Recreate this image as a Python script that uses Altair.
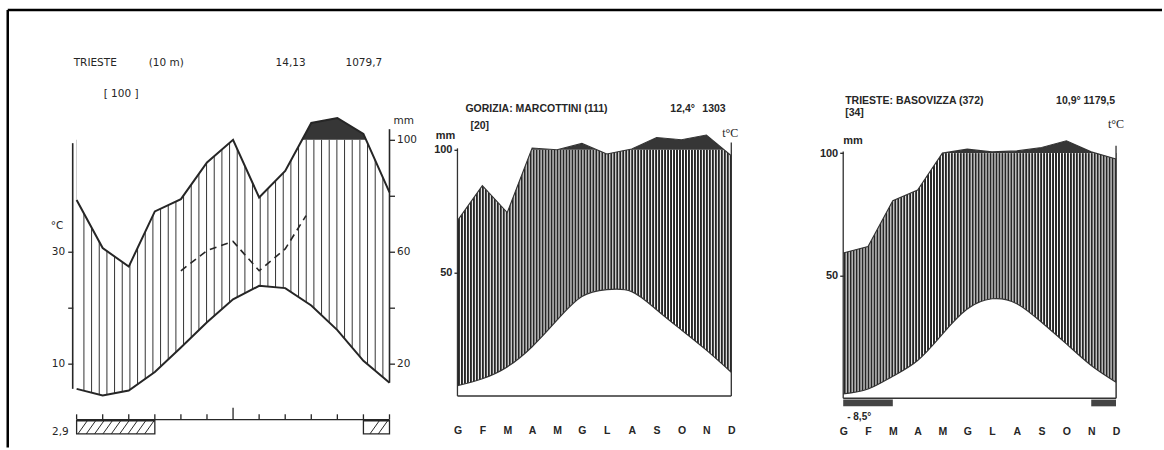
import json
import altair as alt
import pandas as pd

# ---------------- data ----------------
month_letters = ["G", "F", "M", "A", "M", "G", "L", "A", "S", "O", "N", "D"]

# Trieste (10 m) - 13 points along the month grid
t1_pos = list(range(13))
t1_temp = [5.5, 4.3, 5.2, 8.5, 12.9, 17.4, 21.5, 23.9, 23.5, 20.4, 16.0, 10.5, 6.6]
t1_prec = [78.5, 61.3, 54.7, 74.4, 78.8, 91.9, 100.0, 79.4, 88.9, 160.0, 178.0, 121.0, 81.2]
t1_dash_pos = [4.0, 5.0, 6.0, 7.0, 8.0, 8.8]
t1_dash_mm = [53.2, 60.4, 63.7, 53.2, 61.0, 72.9]
t1_frost_from = [0, 11]
t1_frost_to = [3, 12]
t1_month_ticks = list(range(13))

# Gorizia: Marcottini (111)
g_pos = list(range(12))
g_temp = [2.1, 3.5, 5.9, 10.0, 15.4, 20.2, 21.6, 21.2, 17.5, 13.4, 9.3, 4.8]
g_prec = [71.2, 85.4, 74.5, 107.0, 100.0, 126.0, 98.3, 103.0, 150.0, 141.0, 160.0, 97.6]

# Trieste: Basovizza (372)
b_pos = list(range(12))
b_temp = [0.9, 1.9, 4.5, 7.7, 13.1, 18.2, 20.3, 19.3, 15.5, 11.1, 6.7, 3.3]
b_prec = [59.3, 61.9, 80.6, 84.9, 100.0, 116.0, 105.0, 109.0, 123.0, 150.0, 105.0, 97.6]
b_frost_from = [0, 10]
b_frost_to = [2, 11]

# ---------------- styling ----------------
PREC_EXPR = "datum.mm <= 100 ? datum.mm / 2 : 50 + (datum.mm - 100) / 20"
INK = "#262626"
DARK = "#363636"
TOP_Y, BOT_Y, H = 100, 440, 340
F1 = "DejaVu Sans"
F2 = "Liberation Sans"


def one():
    return pd.DataFrame({"k": [0]})


def note(text, ax, ay, origin, size=10, weight="normal", align="left", font=F1, color=INK):
    ox, oy = origin
    return alt.Chart(pd.DataFrame({"t": [text]})).mark_text(
        align=align, baseline="middle", fontSize=size, fontWeight=weight, font=font, color=color
    ).encode(text="t:N", x=alt.value(ax - ox), y=alt.value(ay - oy))


def ydom(zero_px, k):
    return [-(BOT_Y - zero_px) / k, (zero_px - TOP_Y) / k]


axis_common = dict(domain=False, grid=False, title=None, tickColor=INK, tickWidth=1.3,
                   labelColor=INK, zindex=1)

# ================= Panel 1 : Trieste =================
O1 = (72, TOP_Y)
W1 = 317
xs1 = alt.Scale(domain=[-0.15, 12], nice=False, zero=False)
ys1 = alt.Scale(domain=ydom(419.0, 5.6), nice=False, zero=False)
df1 = pd.DataFrame({"pos": t1_pos, "temp": t1_temp, "mm": t1_prec})
b1 = alt.Chart(df1).transform_calculate(py=PREC_EXPR, lo="0", hi="50", top="56.9")
X1 = alt.X("pos:Q", scale=xs1, axis=None)
Yp1 = alt.Y("py:Q", scale=ys1, axis=None)
Yt1 = alt.Y("temp:Q", scale=ys1, axis=None)
Ylo1 = alt.Y("lo:Q", scale=ys1, axis=None)

p1_layers = [
    b1.mark_area(color=DARK).encode(x=X1, y=Yp1, y2="hi:Q"),
    alt.Chart(alt.sequence(0.28, 12.0, 0.294, as_="h")).transform_calculate(lo="0", hi="50")
    .mark_rule(color="#333", strokeWidth=1).encode(
        x=alt.X("h:Q", scale=xs1, axis=None), y=Ylo1, y2="hi:Q"),
    b1.mark_area(color="white").encode(x=X1, y=Yp1, y2="top:Q"),
    b1.mark_area(color="white").encode(x=X1, y=Yt1, y2="lo:Q"),
]

frost1_df = pd.DataFrame({"a": t1_frost_from, "b": t1_frost_to})
span_expr = " || ".join(
    f"(datum.h >= {a} && datum.h2 <= {b})" for a, b in zip(t1_frost_from, t1_frost_to))
p1_layers += [
    alt.Chart(frost1_df).transform_calculate(u="-0.2", d="-2.55")
    .mark_rect(fill="white", stroke=INK, strokeWidth=1.3).encode(
        x=alt.X("a:Q", scale=xs1, axis=None), x2="b:Q",
        y=alt.Y("u:Q", scale=ys1, axis=None), y2="d:Q"),
    alt.Chart(alt.sequence(0.05, 12.0, 0.32, as_="h"))
    .transform_calculate(h2="datum.h + 0.36", u="-0.2", d="-2.55")
    .transform_filter(span_expr).mark_rule(color=INK, strokeWidth=1).encode(
        x=alt.X("h:Q", scale=xs1, axis=None), x2="h2:Q",
        y=alt.Y("d:Q", scale=ys1, axis=None), y2="u:Q"),
]

p1_layers += [
    b1.mark_line(color=INK, strokeWidth=2).encode(
        x=X1,
        y=alt.Y("temp:Q", scale=ys1, axis=alt.Axis(
            orient="left", values=[10, 20, 30], labelExpr="datum.value == 20 ? '' : datum.value",
            tickSize=5, labelPadding=3, labelFont=F1, labelFontSize=10.5, **axis_common))),
    b1.mark_line(color=INK, strokeWidth=2).encode(
        x=X1,
        y=alt.Y("py:Q", scale=ys1, axis=alt.Axis(
            orient="right", values=[10, 20, 30, 40, 50],
            labelExpr="datum.value % 20 == 10 ? datum.value * 2 : ''",
            tickSize=5, labelPadding=2, labelFont=F1, labelFontSize=10.5, **axis_common))),
    alt.Chart(pd.DataFrame({"pos": t1_dash_pos, "mm": t1_dash_mm})).transform_calculate(
        py="datum.mm / 2").mark_line(color=INK, strokeWidth=1.6, strokeDash=[7, 5]).encode(
        x=X1, y=Yp1),
    # left and right axis lines
    alt.Chart(one()).transform_calculate(a="-0.15", u=str(t1_temp[0]), v="49.4")
    .mark_rule(color=INK, strokeWidth=1.6).encode(
        x=alt.X("a:Q", scale=xs1, axis=None), y=alt.Y("u:Q", scale=ys1, axis=None), y2="v:Q"),
    alt.Chart(one()).transform_calculate(a="12", u=str(t1_temp[-1]), v="51.9")
    .mark_rule(color=INK, strokeWidth=1.6).encode(
        x=alt.X("a:Q", scale=xs1, axis=None), y=alt.Y("u:Q", scale=ys1, axis=None), y2="v:Q"),
    # month axis with upward ticks
    alt.Chart(one()).transform_calculate(a=str(min(t1_pos)), b=str(max(t1_pos)), u="0")
    .mark_rule(color=INK, strokeWidth=1.5).encode(
        x=alt.X("a:Q", scale=xs1, axis=None), x2="b:Q", y=alt.Y("u:Q", scale=ys1, axis=None)),
    alt.Chart(pd.DataFrame({"m": t1_month_ticks})).transform_calculate(
        u="0", top="datum.m == 6 ? 2.1 : 0.95").mark_rule(color=INK, strokeWidth=1.3).encode(
        x=alt.X("m:Q", scale=xs1, axis=None), y=alt.Y("u:Q", scale=ys1, axis=None), y2="top:Q"),
    # scan frame (top and left edge)
    alt.Chart(one()).mark_rule(color="black", strokeWidth=2.5).encode(
        x=alt.value(7 - O1[0]), x2=alt.value(1162 - O1[0]), y=alt.value(9 - O1[1])),
    alt.Chart(one()).mark_rule(color="black", strokeWidth=2.5).encode(
        x=alt.value(7 - O1[0]), y=alt.value(9 - O1[1]), y2=alt.value(447 - O1[1])),
    # texts
    note("TRIESTE", 73, 62.5, O1, size=10.5),
    note("(10 m)", 148, 62.5, O1, size=10.5),
    note("14,13", 275, 62.5, O1, size=10.5),
    note("1079,7", 345, 62.5, O1, size=10.5),
    note("[ 100 ]", 103, 93, O1, size=10.5),
    note("mm", 393, 120, O1, size=10.5),
    note("°C", 50, 225, O1, size=10.5),
    note("2,9", 68, 431, O1, size=10.5, align="right"),
]
panel1 = alt.layer(*p1_layers).resolve_axis(y="independent").properties(width=W1, height=H)


# ================= Panels 2 and 3 =================
def station_panel(pos, temp, prec, width, xmax, zero_px, k, month_offset, extra):
    xs = alt.Scale(domain=[0, xmax], nice=False, zero=False)
    ys = alt.Scale(domain=ydom(zero_px, k), nice=False, zero=False)
    df = pd.DataFrame({"pos": pos, "temp": temp, "mm": prec})
    base = alt.Chart(df).transform_calculate(py=PREC_EXPR, lo="0", hi="50", top="59.5")
    X = alt.X("pos:Q", scale=xs, axis=None)
    Yp = alt.Y("py:Q", scale=ys, axis=None)
    Yt = alt.Y("temp:Q", scale=ys, axis=None)
    first, last = min(pos), max(pos)
    line_df = alt.Chart(one()).transform_calculate(
        a=str(first), b=str(last), u="0", v1="50.3", v2="51.5")
    layers = [
        base.mark_area(color=DARK).encode(x=X, y=Yp, y2="hi:Q"),
        alt.Chart(alt.sequence(0.06, last + 0.01, 0.12, as_="h")).transform_calculate(
            lo="0", hi="50").mark_rule(color="#262626", strokeWidth=1.95).encode(
            x=alt.X("h:Q", scale=xs, axis=None), y=alt.Y("lo:Q", scale=ys, axis=None), y2="hi:Q"),
        base.mark_area(color="white").encode(x=X, y=Yp, y2="top:Q"),
        base.mark_area(color="white", interpolate="natural").encode(x=X, y=Yt, y2="lo:Q"),
        # month letters (x axis) and mm labels (left axis)
        base.mark_line(color="#333", strokeWidth=1.2, interpolate="natural").encode(
            x=alt.X("pos:Q", scale=xs, axis=alt.Axis(
                values=list(range(12)), labelExpr=f"{json.dumps(month_letters)}[datum.value]",
                ticks=False, tickSize=0, domain=False, grid=False, title=None, labelPadding=1,
                offset=month_offset, labelBaseline="middle", labelFlush=False, labelOverlap=False,
                labelFont=F2, labelFontWeight="bold", labelFontSize=10.5, labelColor=INK,
                zindex=1)),
            y=alt.Y("temp:Q", scale=ys, axis=alt.Axis(
                orient="left", values=[25, 50], labelExpr="datum.value * 2", tickSize=3.5,
                labelPadding=2, labelFont=F2, labelFontWeight="bold", labelFontSize=11,
                **axis_common))),
        base.mark_line(color="#333", strokeWidth=1.1).encode(x=X, y=Yp),
        line_df.mark_rule(color="#333", strokeWidth=1.5).encode(
            x=alt.X("a:Q", scale=xs, axis=None), x2="b:Q", y=alt.Y("u:Q", scale=ys, axis=None)),
        line_df.mark_rule(color="#333", strokeWidth=1.3).encode(
            x=alt.X("a:Q", scale=xs, axis=None), y=alt.Y("u:Q", scale=ys, axis=None), y2="v1:Q"),
        line_df.mark_rule(color="#333", strokeWidth=1.3).encode(
            x=alt.X("b:Q", scale=xs, axis=None), y=alt.Y("u:Q", scale=ys, axis=None), y2="v2:Q"),
    ]
    layers += extra(xs, ys)
    return alt.layer(*layers).resolve_axis(x="independent", y="independent").properties(
        width=width, height=H)


O2 = (457, TOP_Y)
O3 = (843, TOP_Y)


def extra2(xs, ys):
    return [
        note("GORIZIA: MARCOTTINI (111)", 465, 108.5, O2, size=10.5, weight="bold", font=F2),
        note("12,4°", 670, 108.5, O2, size=10.5, weight="bold", font=F2),
        note("1303", 702, 108.5, O2, size=10.5, weight="bold", font=F2),
        note("[20]", 470, 125, O2, size=10.5, weight="bold", font=F2),
        note("mm", 445, 135, O2, size=11, weight="bold", font=F2, align="center"),
        note("t°C", 730, 132, O2, size=12, font="Liberation Serif", align="center"),
    ]


def extra3(xs, ys):
    frost = pd.DataFrame({"a": b_frost_from, "b": b_frost_to})
    return [
        alt.Chart(frost).transform_calculate(u="-0.26", d="-1.63").mark_rect(color="#444").encode(
            x=alt.X("a:Q", scale=xs, axis=None), x2="b:Q",
            y=alt.Y("u:Q", scale=ys, axis=None), y2="d:Q"),
        note("TRIESTE: BASOVIZZA (372)", 845, 100, O3, size=10.5, weight="bold", font=F2),
        note("10,9°  1179,5", 1056, 100, O3, size=10.5, weight="bold", font=F2),
        note("[34]", 845, 112, O3, size=10.5, weight="bold", font=F2),
        note("mm", 843, 140, O3, size=11, weight="bold", font=F2),
        note("t°C", 1116, 123, O3, size=12, font="Liberation Serif", align="center"),
        note("- 8,5°", 847, 416, O3, size=10, weight="bold", font=F2),
    ]


panel2 = station_panel(g_pos, g_temp, g_prec, 318, 11 * 318 / 274, 395.3, 4.926, -11.5, extra2)
panel3 = station_panel(b_pos, b_temp, b_prec, 273, 11, 397.7, 4.908, -10, extra3)

chart = alt.hconcat(panel1, panel2, panel3, spacing=68, bounds="flush").properties(
    padding={"left": 5.75, "top": 7.75, "right": 0, "bottom": 0},
    background="white",
).configure_view(strokeWidth=0)

chart.save("out.html", embed_options={"renderer": "svg", "actions": False})
